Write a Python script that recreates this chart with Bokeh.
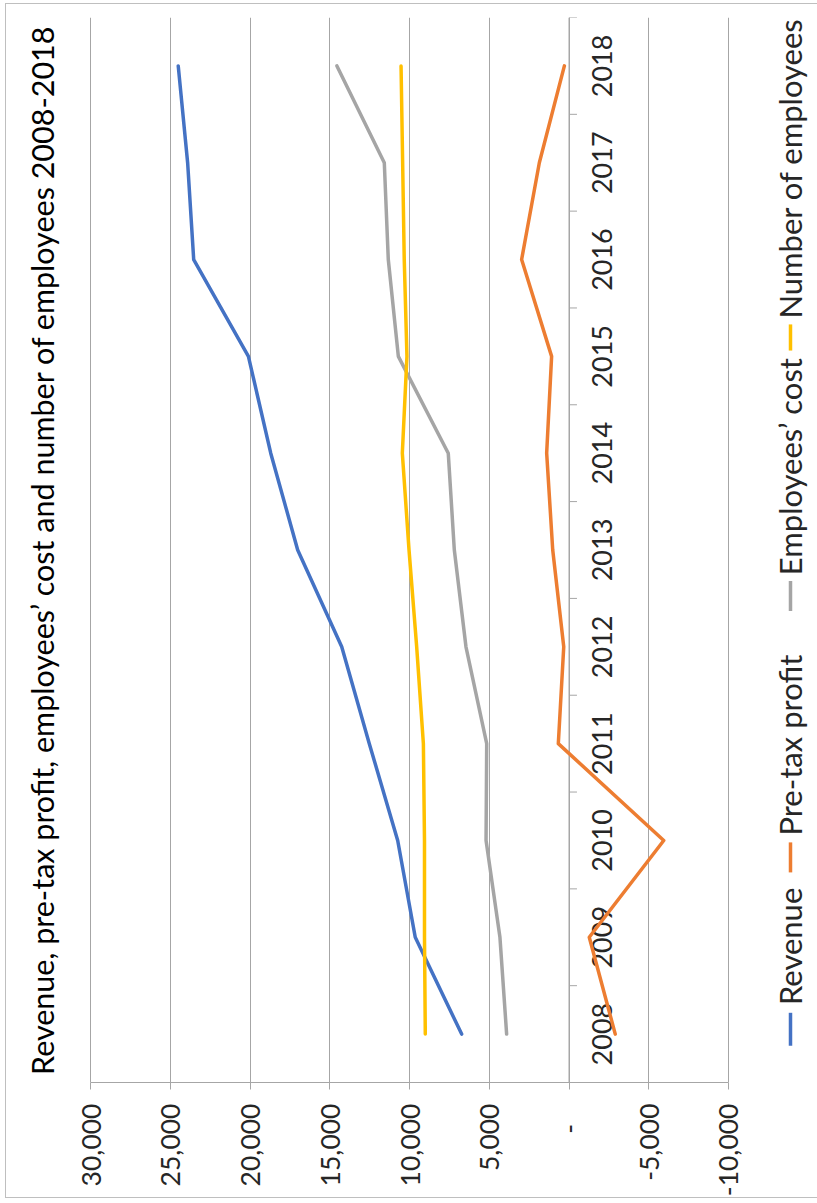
import math
from bokeh.plotting import figure
from bokeh.models import Range1d, FixedTicker, ColumnDataSource, Label
from bokeh.core.properties import value
from bokeh.embed import file_html
from bokeh.resources import INLINE

# ---------------- data ----------------
years = [2008, 2009, 2010, 2011, 2012, 2013, 2014, 2015, 2016, 2017, 2018]
year_labels = [str(y) for y in years]
revenue = [6730, 9640, 10740, 12520, 14250, 17010, 18700, 20100, 23530, 23910, 24500]
pretax_profit = [-2900, -1270, -5940, 670, 330, 1020, 1400, 1090, 2970, 1860, 290]
employees_cost = [3910, 4330, 5200, 5160, 6460, 7190, 7570, 10700, 11330, 11580, 14550]
num_employees = [9010, 9060, 9060, 9130, 9550, 10030, 10450, 10160, 10330, 10430, 10530]
value_ticks = [30000, 25000, 20000, 15000, 10000, 5000, 0, -5000, -10000]
value_tick_labels = ["30,000", "25,000", "20,000", "15,000", "10,000", "5,000",
                     "-\u00a0\u00a0\u00a0", "-5,000", "-10,000"]
series_names = ["Revenue", "Pre-tax profit", "Employees\u2019 cost", "Number of employees"]
series_colors = ["#4472C4", "#ED7D31", "#A5A5A5", "#FFC000"]
title_text = "Revenue, pre-tax profit, employees\u2019 cost and number of employees 2008-2018"

FONT = "Lato"
TXT = "#262626"
GRID = "#A6A6A6"

# ---------------- figure ----------------
W, H = 817, 1203
p = figure(width=W, height=H, output_backend="svg", toolbar_location=None,
           x_range=Range1d(35643, -15580), y_range=Range1d(2007.5, 2018.5),
           min_border_left=0, min_border_right=0, min_border_top=17, min_border_bottom=121,
           y_axis_location=None)
p.outline_line_color = None
p.background_fill_color = None
p.border_fill_color = None
# thin outer chart border (left, top, bottom)
p.styles = {"box-shadow": ("inset 5px 0 0 0 #ffffff, inset 0 3px 0 0 #ffffff, "
                           "inset 0 -5px 0 0 #ffffff, inset 6px 0 0 0 #BFBFBF, "
                           "inset 0 4px 0 0 #BFBFBF, inset 0 -6px 0 0 #BFBFBF"),
            "background-color": "#ffffff"}

ticker = FixedTicker(ticks=value_ticks)
ax = p.xaxis[0]
ax.ticker = ticker
ax.bounds = (min(value_ticks), max(value_ticks))
ax.major_label_overrides = {t: s for t, s in zip(value_ticks, value_tick_labels)}
ax.major_label_orientation = math.pi / 2
ax.major_label_text_font = FONT
ax.major_label_text_font_size = "26.5px"
ax.major_label_text_color = TXT
ax.major_label_standoff = 14
ax.axis_line_color = GRID
ax.major_tick_line_color = GRID
ax.major_tick_out = 7
ax.major_tick_in = 0
ax.minor_tick_line_color = None

p.xgrid.ticker = ticker
p.xgrid.grid_line_color = GRID
p.xgrid.grid_line_width = 1
p.ygrid.visible = False

# category (year) axis crossing at value 0
bounds = [y - 0.5 for y in years] + [years[-1] + 0.5]
p.segment(x0=[0], y0=[bounds[0]], x1=[0], y1=[bounds[-1]], line_color=GRID, line_width=1)
p.segment(x0=[0] * len(bounds), y0=bounds, x1=[-500] * len(bounds), y1=bounds,
          line_color=GRID, line_width=1)
ysrc = ColumnDataSource(dict(x=[-2070] * len(years), y=years, t=year_labels))
p.text(x="x", y="y", text="t", source=ysrc, angle=math.pi / 2, text_align="center",
       text_baseline="middle", text_font=value(FONT), text_font_size="27px", text_color=TXT)

# series lines
for vals, col in zip([revenue, pretax_profit, employees_cost, num_employees], series_colors):
    src = ColumnDataSource(dict(x=vals, y=years))
    p.line(x="x", y="y", source=src, line_color=col, line_width=3.5,
           line_join="round", line_cap="round")

# title (rotated)
p.add_layout(Label(x=33010, y=2013.0, text=title_text, angle=math.pi / 2,
                   text_align="center", text_baseline="middle", text_font=FONT,
                   text_font_size="30.5px", text_color="black"))

# legend (rotated, manual)
leg_x = -13887
leg_marker = [(2007.88, 2008.22), (2009.67, 2009.98), (2012.37, 2012.68), (2015.06, 2015.33)]
leg_text_start = [2008.30, 2010.05, 2012.74, 2015.39]
for (m0, m1), ts, name, col in zip(leg_marker, leg_text_start, series_names, series_colors):
    p.segment(x0=[leg_x], y0=[m0], x1=[leg_x], y1=[m1], line_color=col, line_width=3.5)
    p.add_layout(Label(x=leg_x, y=ts, text=name, angle=math.pi / 2, text_align="left",
                       text_baseline="middle", text_font=FONT, text_font_size="31px",
                       text_color=TXT))

open("out.html", "w").write(file_html(p, INLINE))
